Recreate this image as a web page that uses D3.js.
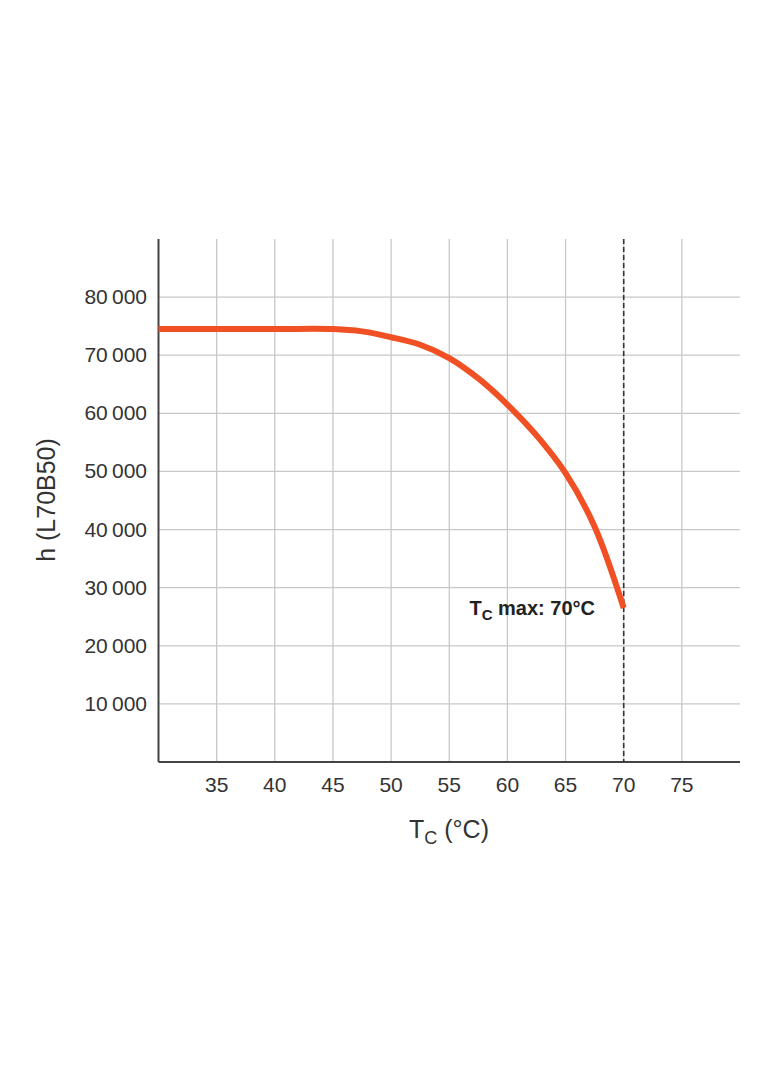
<!DOCTYPE html>
<html>
<head>
<meta charset="utf-8">
<script src="https://cdn.jsdelivr.net/npm/d3@7"></script>
<style>
  body { margin: 0; background: #fff; }
  text { font-family: "Liberation Sans", Arial, sans-serif; }
</style>
</head>
<body>
<div id="chart"></div>
<script>
// curve data
const temps = [30, 35, 40, 45, 47.5, 50, 52.5, 55, 57.5, 60, 62.5, 65, 67.5, 70];
const hours = [74500, 74500, 74500, 74500, 74100, 73100, 71800, 69500, 66000, 61500, 56200, 49700, 40500, 26500];
const xTicks = [35, 40, 45, 50, 55, 60, 65, 70, 75];
const yTicks = [10000, 20000, 30000, 40000, 50000, 60000, 70000, 80000];
const tcMax = 70;

var width = 784, height = 1066;
var svg = d3.select("#chart").append("svg")
    .attr("width", width).attr("height", height);

var x = d3.scaleLinear().domain([30, 80]).range([158.5, 740]);
var y = d3.scaleLinear().domain([0, 90000]).range([762, 239]);

// grid
svg.append("g").selectAll("line").data(xTicks).enter().append("line")
    .attr("x1", d => x(d)).attr("x2", d => x(d))
    .attr("y1", y(90000)).attr("y2", y(0))
    .attr("stroke", "#c8c8c8").attr("stroke-width", 1.3);
svg.append("g").selectAll("line").data(yTicks).enter().append("line")
    .attr("x1", x(30)).attr("x2", x(80))
    .attr("y1", d => y(d)).attr("y2", d => y(d))
    .attr("stroke", "#c8c8c8").attr("stroke-width", 1.3);

// tick labels
svg.append("g").selectAll("text").data(xTicks).enter().append("text")
    .attr("x", d => x(d)).attr("y", 792)
    .attr("text-anchor", "middle")
    .style("font-size", "21px").style("fill", "#333")
    .text(d => d);
svg.append("g").selectAll("text").data(yTicks).enter().append("text")
    .attr("x", 147).attr("y", d => y(d) + 7)
    .attr("text-anchor", "end")
    .style("font-size", "21px").style("fill", "#333")
    .text(d => d3.format(",")(d).replace(",", "\u2009"));

// axes
svg.append("line").attr("x1", x(30)).attr("x2", x(30))
    .attr("y1", y(90000)).attr("y2", y(0))
    .attr("stroke", "#444").attr("stroke-width", 2);
svg.append("line").attr("x1", x(30)).attr("x2", x(80))
    .attr("y1", y(0)).attr("y2", y(0))
    .attr("stroke", "#444").attr("stroke-width", 2);

// Tc max dashed line
svg.append("line").attr("x1", x(tcMax)).attr("x2", x(tcMax))
    .attr("y1", y(90000)).attr("y2", y(0))
    .attr("stroke", "#333").attr("stroke-width", 1.6)
    .attr("stroke-dasharray", "5,3");

// curve
var line = d3.line().x((d, i) => x(temps[i])).y(d => y(d)).curve(d3.curveCatmullRom.alpha(0.5));
svg.append("path").datum(hours)
    .attr("d", line)
    .attr("fill", "none")
    .attr("stroke", "#f05023").attr("stroke-width", 6);

// annotation
var ann = svg.append("text").attr("x", 595).attr("y", 615)
    .attr("text-anchor", "end")
    .style("font-size", "20px").style("font-weight", "bold").style("fill", "#222");
ann.append("tspan").text("T");
ann.append("tspan").attr("dy", 5).style("font-size", "15px").text("C");
ann.append("tspan").attr("dy", -5).text(" max: 70°C");

// axis titles
var xt = svg.append("text").attr("x", 449).attr("y", 838)
    .attr("text-anchor", "middle")
    .style("font-size", "25px").style("fill", "#333");
xt.append("tspan").text("T");
xt.append("tspan").attr("dy", 6).style("font-size", "18px").text("C");
xt.append("tspan").attr("dy", -6).text(" (°C)");

svg.append("text")
    .attr("transform", "translate(55,500) rotate(-90)")
    .attr("text-anchor", "middle")
    .style("font-size", "25px").style("fill", "#333")
    .text("h (L70B50)");
</script>
</body>
</html>
